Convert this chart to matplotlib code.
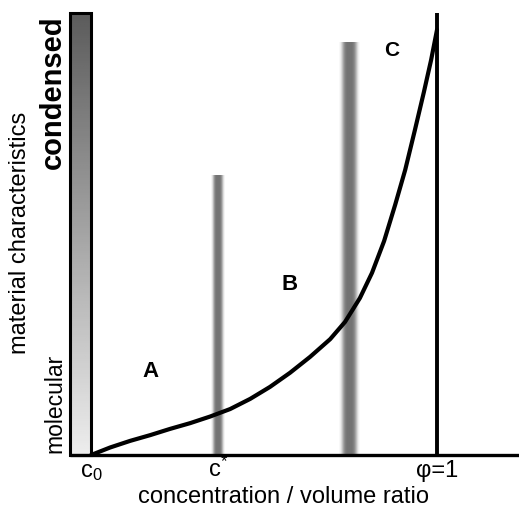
import numpy as np
import matplotlib.pyplot as plt
from matplotlib.patches import Rectangle

plt.rcParams['font.family'] = ['Liberation Sans', 'DejaVu Sans']
plt.rcParams['mathtext.fontset'] = 'custom'
plt.rcParams['mathtext.rm'] = 'Liberation Sans'
plt.rcParams['mathtext.it'] = 'Liberation Sans'

#%% datos
curve_x = [0.0, 0.055, 0.113, 0.171, 0.228, 0.286, 0.344, 0.402, 0.460,
           0.517, 0.575, 0.633, 0.691, 0.734, 0.777, 0.812, 0.847, 0.879,
           0.908, 0.936, 0.962, 0.983, 1.0]
curve_y = [0.0, 0.017, 0.032, 0.045, 0.059, 0.072, 0.087, 0.104, 0.127,
           0.154, 0.186, 0.222, 0.262, 0.301, 0.355, 0.412, 0.484, 0.566,
           0.645, 0.735, 0.821, 0.894, 0.962]

tick_pos = [0.0, 0.367, 1.0]
tick_labels = [r'c$_{\mathrm{0}}$', r'c$^{*}$', 'φ=1']

bar_pos = [0.367, 0.746]
bar_top = [0.633, 0.934]
bar_width = [0.040, 0.060]

region_labels = ['A', 'B', 'C']
region_x = [0.171, 0.575, 0.870]
region_y = [0.188, 0.385, 0.916]
region_size = [16, 16, 15]

#%% figura
fig = plt.figure(figsize=(5.19, 5.08), dpi=100)
ax = fig.add_axes([70/519, 53/508, 449/519, 442/508])
ax.set_xlim(-0.061, 1.237)
ax.set_ylim(0, 1)
ax.axis('off')

# barra de gradiente (izquierda)
grad = np.linspace(0.93, 0.36, 200).reshape(-1, 1)
ax.imshow(grad, extent=(-0.061, 0, 0, 1), origin='lower', cmap='gray',
          vmin=0, vmax=1, aspect='auto', zorder=1)
ax.add_patch(Rectangle((-0.061, 0), 0.061, 1, fill=False, ec='black',
                       lw=2.2, zorder=3, clip_on=False))

# barras difusas
prof = np.linspace(-1, 1, 60)
for xc, top, w in zip(bar_pos, bar_top, bar_width):
    row = 1 - 0.55 * np.exp(-(prof / 0.72) ** 4)
    img = np.tile(row, (10, 1))
    ax.imshow(img, extent=(xc - w / 2, xc + w / 2, 0, top), cmap='gray',
              vmin=0, vmax=1, aspect='auto', zorder=1, interpolation='bicubic')

# ejes
ax.plot([-0.061, 1.237], [0, 0], color='black', lw=2.4, zorder=4,
        clip_on=False, solid_capstyle='butt')
ax.plot([1.0, 1.0], [0, 1], color='black', lw=2.8, zorder=4,
        clip_on=False, solid_capstyle='butt')

# curva
ax.plot(curve_x, curve_y, color='black', lw=3.0, zorder=5,
        solid_capstyle='round', solid_joinstyle='round')

# etiquetas de regiones
for lab, x, y, s in zip(region_labels, region_x, region_y, region_size):
    ax.text(x, y, lab, fontsize=s, fontweight='bold', ha='center', va='center')

# ticks
for x, lab in zip(tick_pos, tick_labels):
    ax.text(x, -0.05, lab, fontsize=17, ha='center', va='baseline', clip_on=False)

fig.text(283/519, 1 - 497/508, 'concentration / volume ratio', fontsize=17,
         ha='center', va='center')
fig.text(20/519, 1 - 233/508, 'material characteristics', fontsize=17,
         rotation=90, ha='center', va='center')
fig.text(55/519, 1 - 403/508, 'molecular', fontsize=16.5,
         rotation=90, ha='center', va='center')
fig.text(53/519, 1 - 92/508, 'condensed', fontsize=21, fontweight='bold',
         rotation=90, ha='center', va='center')

fig.savefig('out.png', dpi=100)
